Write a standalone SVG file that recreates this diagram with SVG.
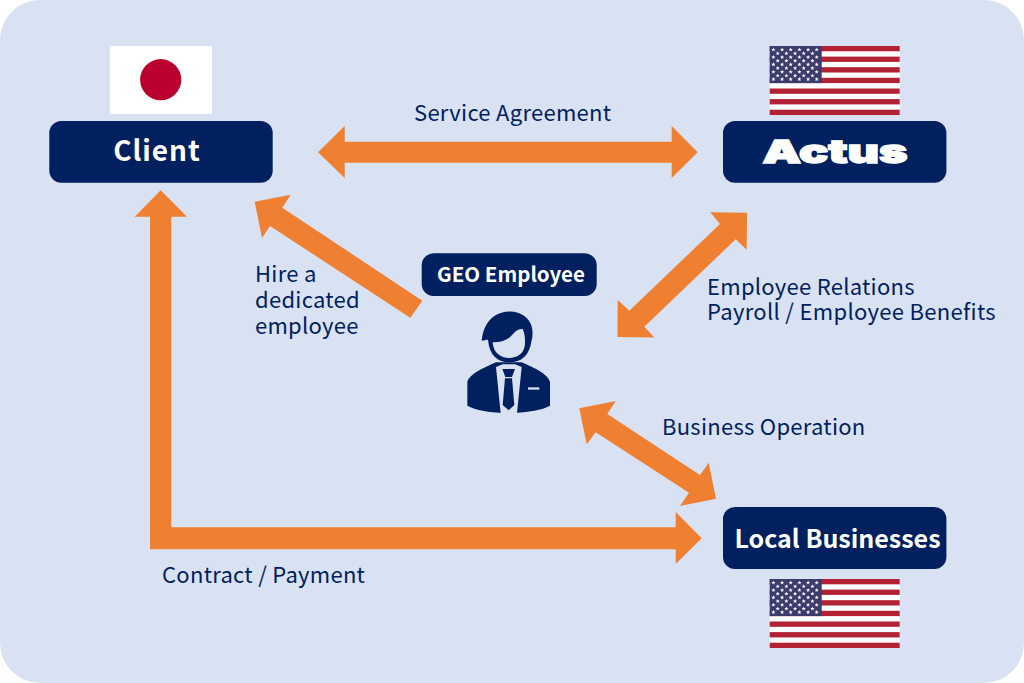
<svg xmlns="http://www.w3.org/2000/svg" xmlns:xlink="http://www.w3.org/1999/xlink" width="1024" height="683" viewBox="0 0 1024 683">
<style>
.box{fill:#002060}
.arrow{fill:#EF7F31}
text{font-family:"Noto Sans CJK JP","Noto Sans",sans-serif}
.lbl{fill:#002060;font-size:22px;font-weight:400;letter-spacing:.28px}
.nm{fill:#fff;font-weight:700}
.bg{fill:#D9E2F3}
.st{fill:#B22234}
</style>
<defs>
<polygon id="s" points="0,-2.2 .6,-.7 2.1,-.7 .9,.3 1.3,1.8 0,.9 -1.3,1.8 -.9,.3 -2.1,-.7 -.6,-.7" fill="#fff"/>
<g id="r6"><use xlink:href="#s" x="3.7"/><use xlink:href="#s" x="12.4"/><use xlink:href="#s" x="21"/><use xlink:href="#s" x="29.7"/><use xlink:href="#s" x="38.4"/><use xlink:href="#s" x="47"/></g>
<g id="r5"><use xlink:href="#s" x="8"/><use xlink:href="#s" x="16.7"/><use xlink:href="#s" x="25.4"/><use xlink:href="#s" x="34"/><use xlink:href="#s" x="42.7"/></g>
<g id="us">
<rect width="130" height="69" fill="#fff"/>
<rect class="st" y="0" width="130" height="5.3"/>
<rect class="st" y="10.6" width="130" height="5.3"/>
<rect class="st" y="21.2" width="130" height="5.3"/>
<rect class="st" y="31.8" width="130" height="5.3"/>
<rect class="st" y="42.5" width="130" height="5.3"/>
<rect class="st" y="53.1" width="130" height="5.3"/>
<rect class="st" y="63.7" width="130" height="5.3"/>
<rect width="52" height="37.1" fill="#3C3B6E"/>
<use xlink:href="#r6" y="3.7"/><use xlink:href="#r5" y="7.4"/><use xlink:href="#r6" y="11.1"/><use xlink:href="#r5" y="14.8"/><use xlink:href="#r6" y="18.5"/><use xlink:href="#r5" y="22.2"/><use xlink:href="#r6" y="25.9"/><use xlink:href="#r5" y="29.6"/><use xlink:href="#r6" y="33.3"/>
</g>
</defs>
<rect width="1024" height="683" fill="#fff"/>
<rect class="bg" width="1024" height="683" rx="40"/>

<g id="connectors">
<polygon id="service-agreement" class="arrow" points="318,152.3 344.7,126 344.7,141.7 671.7,141.7 671.7,126 697.7,152.3 671.7,178 671.7,162.7 344.7,162.7 344.7,178"/>
<polygon id="hire" class="arrow" points="254.7,201.7 290.7,194.7 282.3,207.7 422.3,300.7 410.3,317.7 270,226 262,238"/>
<polygon id="employee-relations" class="arrow" points="747,212.7 710.3,212.3 720,224 629.3,310.7 617.7,300 617.5,337 654.3,337.5 644.3,326.7 735.7,239.3 746.7,249.7"/>
<polygon id="business-operation" class="arrow" points="579.3,408.3 615.7,401 607.3,414 700,475 708.7,462.7 716,498.7 680,506 689,492.7 595.7,432.3 586.7,444.3"/>
<polygon id="contract-payment" class="arrow" points="160.7,190.3 187,216.7 171.3,216.7 171.3,527.3 675.7,527.3 675.7,512 701.7,538.3 675.7,564 675.7,549.3 150,549.3 150,216.7 134.7,216.7"/>
</g>

<g id="client">
<rect x="110" y="46" width="102" height="68" fill="#fff"/>
<circle cx="160.7" cy="79.7" r="20.6" fill="#BC002D"/>
<rect class="box" x="49.3" y="121" width="223.4" height="61.7" rx="12"/>
<text class="nm" x="157" y="161" font-size="28" text-anchor="middle" letter-spacing="1">Client</text>
</g>

<g id="actus">
<use xlink:href="#us" x="769.7" y="46"/>
<rect class="box" x="723" y="121" width="223.4" height="61.7" rx="12"/>
<text x="835" y="163" font-size="32" text-anchor="middle" fill="#fff" stroke="#fff" stroke-width="1.4" style="font-family:'Inter','Liberation Sans',sans-serif;font-weight:900" textLength="145" lengthAdjust="spacingAndGlyphs">Actus</text>
</g>

<g id="local-businesses">
<rect class="box" x="723" y="507" width="223.4" height="62" rx="12"/>
<text class="nm" x="837.5" y="548" font-size="25" text-anchor="middle">Local Businesses</text>
<use xlink:href="#us" x="769.7" y="579"/>
</g>

<g id="geo-employee">
<rect class="box" x="421.7" y="253.3" width="175" height="42.7" rx="12"/>
<text class="nm" x="511" y="282" font-size="20.5" text-anchor="middle">GEO Employee</text>
<g transform="translate(410 245) scale(.33333)">
<path class="box" d="M172,412C176,388 222,368 258,352L335,352C372,368 416,388 420,412L420,482C395,495 360,502 300,504C240,504 195,495 172,482Z"/>
<path class="bg" d="M258,366L278,358L315,358L335,366L321,504L272,504Z"/>
<path class="box" d="M277,372L315,372L306,396L286,396ZM285,400L306,400L313,480L296,496L278,480Z"/>
<rect class="bg" x="354" y="427" width="34" height="7"/>
<path class="box" d="M215,287C218,262 226,232 252,214C276,197 318,192 344,214C368,232 372,262 364,290C358,330 335,352 298,352C262,352 238,330 234,284C228,284 222,286 215,287Z"/>
<path class="bg" d="M248,292C268,292 290,288 304,272C316,258 326,250 338,252C346,268 346,290 344,304C340,326 322,339 298,339C272,339 250,324 248,292Z"/>
</g>
</g>

<g id="labels">
<text class="lbl" x="414" y="121">Service Agreement</text>
<text class="lbl"><tspan x="255" y="282">Hire a</tspan><tspan x="255" y="308">dedicated</tspan><tspan x="255" y="334">employee</tspan></text>
<text class="lbl"><tspan x="707" y="295">Employee Relations</tspan><tspan x="707" y="320" style="letter-spacing:.32px">Payroll / Employee Benefits</tspan></text>
<text class="lbl" x="662" y="435">Business Operation</text>
<text class="lbl" x="162" y="583">Contract / Payment</text>
</g>
</svg>
